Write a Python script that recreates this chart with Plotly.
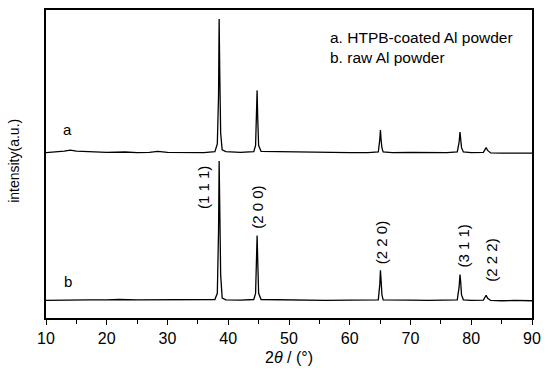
import plotly.graph_objects as go

# XRD pattern a: HTPB-coated Al powder (2theta, intensity a.u.)
two_theta_a = [10, 11.5, 13, 14, 15, 17, 20, 23, 25, 27, 28.4, 30, 33, 36, 37.8, 38.2, 38.4, 38.5, 38.6, 38.75, 39.0, 39.6,
               42, 44.2, 44.5, 44.65, 44.75, 44.85, 45.0, 45.4, 48, 49, 52, 56, 60, 63, 64.7, 64.95, 65.05, 65.15, 65.3, 65.5,
               67, 70, 73, 76, 77.7, 78.0, 78.15, 78.25, 78.4, 78.7, 80, 82.0, 82.3, 82.45, 82.7, 83.2, 85, 87, 90]
intensity_a = [53.7, 53.9, 54.2, 54.5, 54.2, 54.0, 53.8, 53.9, 53.7, 53.8, 54.1, 53.8, 53.7, 53.7, 54.0, 56.5, 72, 97.1, 80, 60, 54.6, 54.0,
               53.8, 54.0, 56, 68, 73.9, 65, 56, 54.1, 54.0, 54.2, 53.9, 53.8, 53.7, 53.7, 53.9, 58, 61.0, 58, 55.2, 53.9,
               53.7, 53.8, 53.7, 53.7, 53.9, 57, 60.4, 58.5, 55.3, 53.9, 53.7, 53.8, 54.8, 55.3, 54.4, 53.6, 53.5, 53.5, 53.5]

# XRD pattern b: raw Al powder
two_theta_b = [10, 12, 14, 17, 20, 22, 25, 28, 31, 34, 37.8, 38.2, 38.4, 38.5, 38.6, 38.75, 39.0, 39.6,
               42, 44.2, 44.5, 44.65, 44.75, 44.85, 45.0, 45.4, 48, 52, 56, 60, 63, 64.7, 64.95, 65.05, 65.15, 65.3, 65.5,
               67, 70, 73, 76, 77.7, 78.0, 78.15, 78.25, 78.4, 78.7, 80, 82.0, 82.3, 82.45, 82.7, 83.2, 85, 87, 90]
intensity_b = [5.7, 5.8, 5.8, 5.9, 5.9, 6.0, 5.9, 5.9, 5.8, 5.8, 6.0, 8, 28, 51.0, 36, 14, 6.5, 5.9,
               5.8, 6.0, 8, 22, 26.8, 19, 8, 6.0, 5.9, 5.8, 5.7, 5.8, 5.8, 5.9, 11, 15.5, 12.5, 7.5, 5.9,
               5.8, 5.8, 5.7, 5.8, 5.9, 10, 14.1, 12, 7.5, 5.9, 5.7, 5.8, 6.8, 7.4, 6.4, 5.7, 5.6, 5.7, 5.6]

# Miller index labels (text, 2theta, height)
hkl_labels = ["(1 1 1)", "(2 0 0)", "(2 2 0)", "(3 1 1)", "(2 2 2)"]
hkl_x = [35.9, 44.9, 65.25, 78.8, 83.3]
hkl_y = [42.3, 35.8, 24.5, 23.5, 18.7]

legend_lines = ["a. HTPB-coated Al powder", "b. raw Al powder"]
x_ticks = [10, 20, 30, 40, 50, 60, 70, 80, 90]

FONT = "Liberation Sans, Arial, sans-serif"

fig = go.Figure()
fig.add_trace(go.Scatter(x=two_theta_a, y=intensity_a, mode="lines",
                         line=dict(color="black", width=1.3), showlegend=False))
fig.add_trace(go.Scatter(x=two_theta_b, y=intensity_b, mode="lines",
                         line=dict(color="black", width=1.3), showlegend=False))

annotations = []
for t, x, y in zip(hkl_labels, hkl_x, hkl_y):
    annotations.append(dict(x=x, y=y, text=t, textangle=-90, showarrow=False,
                            font=dict(family=FONT, size=15, color="black")))
annotations.append(dict(x=13.6, y=61.3, text="a", showarrow=False,
                        font=dict(family=FONT, size=15, color="black")))
annotations.append(dict(x=13.6, y=11.9, text="b", showarrow=False,
                        font=dict(family=FONT, size=15, color="black")))
for i, t in enumerate(legend_lines):
    annotations.append(dict(xref="paper", yref="paper", x=0.58, y=0.912 - i * 0.065,
                            text=t, showarrow=False, xanchor="left", yanchor="middle",
                            font=dict(family=FONT, size=15.5, color="black")))
annotations.append(dict(xref="paper", yref="paper", x=-0.066, y=0.51,
                        text="intensity(a.u.)", textangle=-90, showarrow=False,
                        xanchor="center", yanchor="middle",
                        font=dict(family=FONT, size=14, color="black")))

fig.update_layout(
    width=549, height=375,
    margin=dict(l=46, r=8, t=8, b=57),
    paper_bgcolor="white", plot_bgcolor="white",
    annotations=annotations,
    xaxis=dict(range=[10, 90], tickvals=x_ticks, ticks="outside", ticklen=5, tickwidth=1.2,
               tickcolor="black", showline=True, linecolor="black", linewidth=1.5, mirror=True,
               showgrid=False, zeroline=False,
               minor=dict(dtick=5, ticks="outside", ticklen=4, tickwidth=1.2, tickcolor="black", showgrid=False),
               tickfont=dict(family=FONT, size=16, color="black"),
               title=dict(text="2<i>θ</i> / (°)", font=dict(family=FONT, size=16, color="black"), standoff=6)),
    yaxis=dict(range=[0, 100], showticklabels=False, ticks="", showline=True, linecolor="black",
               linewidth=1.5, mirror=True, showgrid=False, zeroline=False),
)

fig.write_html("out.html")
